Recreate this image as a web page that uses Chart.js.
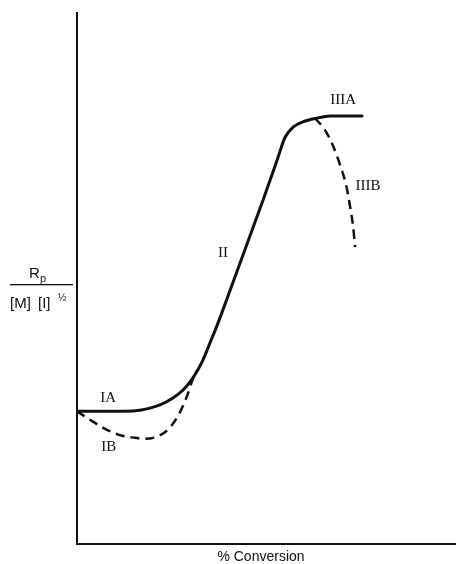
<!DOCTYPE html>
<html>
<head>
<meta charset="utf-8">
<script src="https://cdn.jsdelivr.net/npm/chart.js@4/dist/chart.umd.min.js"></script>
<style>
  html, body { margin: 0; padding: 0; background: #fff; }
  #wrap { width: 456px; height: 564px; position: relative; }
</style>
</head>
<body>
<div id="wrap"><canvas id="c"></canvas></div>
<script>
// Rate of polymerization vs. conversion (arbitrary units, 0-100 on both axes)

// Region IA -> II -> IIIA: the ideal, gel-effect curve
const curveIA_II_IIIA_x = [0, 6.1, 12.7, 16.6, 21.9, 25.3, 28.0, 30.6, 33.0, 35.1, 37.2, 40.4, 49.1, 52.8, 54.9, 57.0, 59.6, 63.3, 66.8, 75.2];
const curveIA_II_IIIA_y = [25.0, 25.0, 25.0, 25.2, 26.2, 27.5, 29.0, 31.3, 34.3, 37.9, 41.6, 47.8, 64.8, 72.3, 76.6, 78.5, 79.5, 80.2, 80.6, 80.6];

// Region IB: early dip before the rise
const curveIB_x = [0, 3.4, 7.4, 11.3, 15.3, 17.9, 21.4, 24.5, 27.0, 29.0, 30.6, 31.3];
const curveIB_y = [25.0, 23.4, 21.7, 20.5, 20.0, 19.8, 20.3, 21.9, 24.6, 27.8, 31.2, 32.6];

// Region IIIB: late fall-off
const curveIIIB_x = [62.8, 65.4, 67.5, 69.4, 71.0, 72.0, 72.8, 73.4];
const curveIIIB_y = [80.2, 78.0, 75.1, 71.4, 67.6, 63.8, 60.1, 55.9];

// Region labels and where they sit (data units)
const regionNames = ['IA', 'IB', 'II', 'IIIA', 'IIIB'];
const regionLabelX = [8.2, 8.4, 38.5, 70.2, 76.8];
const regionLabelY = [27.5, 18.3, 54.8, 83.6, 67.4];

const xTitle = '% Conversion';

function pts(xs, ys) { return xs.map((x, i) => ({ x: x, y: ys[i] })); }

const INK = '#111';

const labelPlugin = {
  id: 'regionLabels',
  afterDatasetsDraw(chart) {
    const ctx = chart.ctx;
    const xs = chart.scales.x, ys = chart.scales.y;
    ctx.save();
    ctx.fillStyle = INK;
    ctx.textAlign = 'center';
    ctx.textBaseline = 'middle';
    ctx.font = '15px "Liberation Serif", serif';
    regionNames.forEach((name, i) => {
      ctx.fillText(name, xs.getPixelForValue(regionLabelX[i]), ys.getPixelForValue(regionLabelY[i]));
    });

    // y-axis quantity: Rp / [M][I]^1/2
    ctx.textAlign = 'left';
    ctx.textBaseline = 'alphabetic';
    ctx.font = '15px "Liberation Sans", Arial, sans-serif';
    ctx.fillText('R', 29, 278);
    ctx.font = '11px "Liberation Sans", Arial, sans-serif';
    ctx.fillText('p', 40, 282);
    ctx.fillRect(10, 284, 63, 1.3);
    ctx.font = '15px "Liberation Sans", Arial, sans-serif';
    ctx.fillText('[M]', 10, 308);
    ctx.fillText('[I]', 38, 308);
    ctx.font = '10px "Liberation Sans", Arial, sans-serif';
    ctx.fillText('½', 58, 301);

    // x-axis quantity
    ctx.font = '14px "Liberation Sans", Arial, sans-serif';
    ctx.textAlign = 'center';
    ctx.fillText(xTitle, 261, 561);
    ctx.restore();
  }
};

new Chart(document.getElementById('c'), {
  type: 'scatter',
  data: {
    datasets: [
      {
        label: 'IA-II-IIIA',
        data: pts(curveIA_II_IIIA_x, curveIA_II_IIIA_y),
        showLine: true,
        borderColor: INK,
        borderWidth: 3,
        pointRadius: 0,
        cubicInterpolationMode: 'monotone',
        borderCapStyle: 'round'
      },
      {
        label: 'IB',
        data: pts(curveIB_x, curveIB_y),
        showLine: true,
        borderColor: INK,
        borderWidth: 2.5,
        borderDash: [9, 6],
        pointRadius: 0,
        cubicInterpolationMode: 'monotone'
      },
      {
        label: 'IIIB',
        data: pts(curveIIIB_x, curveIIIB_y),
        showLine: true,
        borderColor: INK,
        borderWidth: 2.5,
        borderDash: [9, 6],
        pointRadius: 0,
        cubicInterpolationMode: 'monotone'
      }
    ]
  },
  options: {
    responsive: true,
    maintainAspectRatio: false,
    animation: false,
    layout: { padding: { left: 77, top: 13, right: 0, bottom: 20 } },
    plugins: { legend: { display: false }, tooltip: { enabled: false } },
    scales: {
      x: {
        type: 'linear', min: 0, max: 100,
        ticks: { display: false },
        grid: { display: false, drawTicks: false },
        border: { display: true, color: INK, width: 2 }
      },
      y: {
        type: 'linear', min: 0, max: 100,
        ticks: { display: false },
        grid: { display: false, drawTicks: false },
        border: { display: true, color: INK, width: 2 }
      }
    }
  },
  plugins: [labelPlugin]
});
</script>
</body>
</html>
